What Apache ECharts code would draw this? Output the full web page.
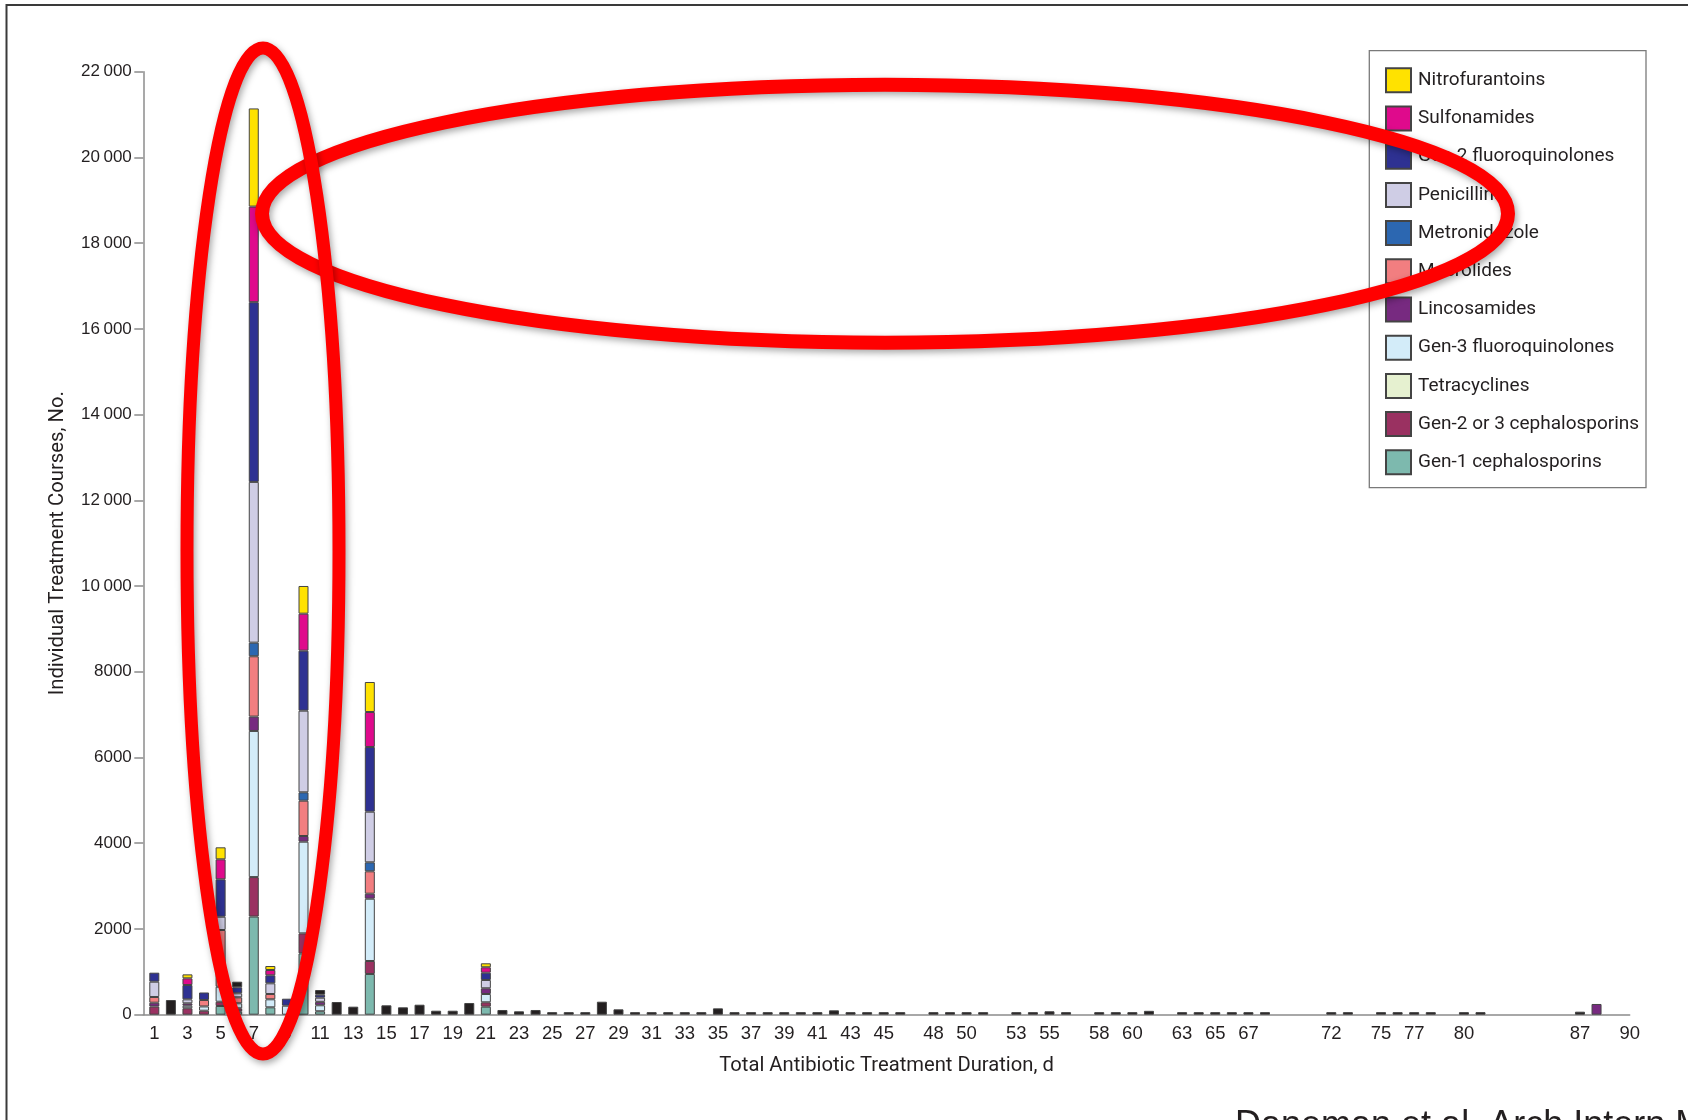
<!DOCTYPE html>
<html>
<head>
<meta charset="utf-8">
<script src="https://cdn.jsdelivr.net/npm/echarts@6/dist/echarts.min.js"></script>
<style>
  html, body { margin: 0; padding: 0; background: #ffffff; }
  #chart { width: 1688px; height: 1120px; }
</style>
</head>
<body>
<div id="chart"></div>
<script>
// Treatment-duration days that have at least one course
const days = [
  1, 2, 3, 4, 5, 6, 7, 8, 9, 10, 11, 12, 13, 14, 15, 16, 17, 18, 19, 20,
  21, 22, 23, 24, 25, 26, 27, 28, 29, 30, 31, 32, 33, 34, 35, 36, 37, 38, 39, 40,
  41, 42, 43, 44, 45, 46,
  48, 49, 50, 51, 53, 54, 55, 56, 58, 59, 60, 61, 63, 64, 65, 66, 67, 68,
  72, 73, 75, 76, 77, 78, 80, 81, 87, 88
];

// Courses not split by drug class (black), one value per entry of `days`
const otherCourses = [
  0, 342, 0, 0, 0, 131, 0, 0, 0, 0, 109, 296, 187, 0, 219, 172, 233, 93, 93, 273,
  0, 110, 79, 110, 60, 60, 60, 303, 125, 60, 60, 60, 60, 60, 148, 60, 60, 60, 60, 60,
  60, 102, 60, 60, 60, 60,
  60, 60, 60, 60, 60, 60, 80, 60, 60, 60, 60, 90, 60, 60, 60, 60, 60, 60,
  60, 60, 60, 60, 60, 60, 60, 60, 70, 0
];

// Days with a drug-class breakdown
const classDays = [1, 3, 4, 5, 6, 7, 8, 9, 10, 11, 14, 21, 88];

// Courses per drug class, aligned with classDays
const gen1Cephalosporins   = [0, 0, 0, 203, 70, 2290, 172, 0, 1430, 80, 950, 187, 0];
const gen23Cephalosporins  = [190, 150, 93, 100, 79, 920, 0, 0, 467, 0, 303, 102, 0];
const tetracyclines        = [0, 0, 0, 0, 0, 0, 0, 0, 0, 0, 0, 0, 0];
const gen3Fluoroquinolones = [0, 60, 100, 350, 117, 3410, 187, 210, 2139, 140, 1453, 194, 0];
const lincosamides         = [90, 55, 0, 0, 0, 335, 0, 0, 133, 80, 117, 133, 250];
const macrolides           = [133, 0, 150, 1323, 140, 1407, 124, 0, 824, 0, 522, 0, 0];
const metronidazole        = [0, 0, 0, 0, 0, 318, 0, 0, 195, 0, 210, 0, 0];
const penicillins          = [357, 93, 0, 310, 93, 3750, 249, 0, 1905, 97, 1181, 194, 0];
const gen2Fluoroquinolones = [210, 334, 175, 872, 140, 4193, 187, 163, 1400, 70, 1510, 170, 0];
const sulfonamides         = [0, 156, 0, 467, 0, 2230, 124, 0, 863, 0, 816, 126, 0];
const nitrofurantoins      = [0, 93, 0, 280, 0, 2290, 93, 0, 646, 0, 700, 93, 0];

// Days labelled under the horizontal axis
const xTickDays = [1, 3, 5, 7, 9, 11, 13, 15, 17, 19, 21, 23, 25, 27, 29, 31, 33, 35, 37, 39,
  41, 43, 45, 48, 50, 53, 55, 58, 60, 63, 65, 67, 72, 75, 77, 80, 87, 90];

// Stack order, bottom to top
const classSeries = [
  { name: 'Gen-1 cephalosporins', color: '#7db9ae', values: gen1Cephalosporins },
  { name: 'Gen-2 or 3 cephalosporins', color: '#9a3161', values: gen23Cephalosporins },
  { name: 'Tetracyclines', color: '#e6f1d0', values: tetracyclines },
  { name: 'Gen-3 fluoroquinolones', color: '#d3ecf9', values: gen3Fluoroquinolones },
  { name: 'Lincosamides', color: '#772a80', values: lincosamides },
  { name: 'Macrolides', color: '#f27e80', values: macrolides },
  { name: 'Metronidazole', color: '#2c67b1', values: metronidazole },
  { name: 'Penicillins', color: '#cfcde5', values: penicillins },
  { name: 'Gen-2 fluoroquinolones', color: '#2e3192', values: gen2Fluoroquinolones },
  { name: 'Sulfonamides', color: '#df0a8c', values: sulfonamides },
  { name: 'Nitrofurantoins', color: '#ffe200', values: nitrofurantoins }
];

const NARROW = 'Roboto, "Liberation Sans", sans-serif';
const REGULAR = '"Liberation Sans", Arial, Helvetica, sans-serif';
const INK = '#231f20';

// [count, day] rows over every entry of `days`; '-' where the class has no courses
function rowsFor(srcDays, srcValues) {
  const byDay = new Map(srcDays.map((d, i) => [d, srcValues[i]]));
  return days.map(d => {
    const v = byDay.get(d);
    return [v ? v : '-', d];
  });
}

function barSeries(name, color, rows) {
  return {
    name: name,
    type: 'bar',
    stack: 'courses',
    barWidth: 10,
    dimensions: ['count', 'day'],
    encode: { x: 'day', y: 'count' },
    itemStyle: { color: color, borderColor: '#444444', borderWidth: 1 },
    emphasis: { disabled: true },
    data: rows
  };
}

const series = classSeries.map(c => barSeries(c.name, c.color, rowsFor(classDays, c.values)));
series.push(barSeries('Other', INK, rowsFor(days, otherCourses)));

function thousands(v) {
  const s = String(v);
  return v >= 10000 ? s.replace(/(\d)(?=(\d{3})+$)/g, '$1\u2009') : s;
}

const chart = echarts.init(document.getElementById('chart'), null, { renderer: 'canvas' });
chart.setOption({
  animation: false,
  backgroundColor: '#ffffff',
  grid: { left: 143.3, right: 58.3, top: 71.7, bottom: 105.3, containLabel: false, outerBoundsMode: 'none' },
  legend: {
    orient: 'vertical',
    left: 1385,
    top: 67.3,
    padding: 0,
    itemWidth: 25,
    itemHeight: 24,
    itemGap: 12.2,
    icon: 'rect',
    selectedMode: false,
    data: classSeries.map(c => c.name).reverse(),
    textStyle: { fontFamily: NARROW, fontSize: 19, color: INK, padding: [0, 0, 0, 2] }
  },
  xAxis: {
    type: 'value',
    min: 0.336,
    max: 90,
    splitLine: { show: false },
    axisLine: { show: true, onZero: false, lineStyle: { color: '#8c8c8c', width: 1.5 } },
    axisTick: { show: false },
    axisLabel: {
      customValues: xTickDays,
      fontFamily: REGULAR,
      fontSize: 18.5,
      color: INK,
      margin: 10
    },
    name: 'Total Antibiotic Treatment Duration, d',
    nameLocation: 'middle',
    nameGap: 41,
    nameTextStyle: { fontFamily: NARROW, fontSize: 20.2, color: INK }
  },
  yAxis: {
    type: 'value',
    min: 0,
    max: 22000,
    interval: 2000,
    splitLine: { show: false },
    axisLine: { show: true, onZero: false, lineStyle: { color: '#8c8c8c', width: 1.5 } },
    axisTick: { show: true, length: 9, lineStyle: { color: '#8c8c8c', width: 1.5 } },
    axisLabel: {
      formatter: thousands,
      fontFamily: REGULAR,
      fontSize: 17,
      color: INK,
      margin: 11.5,
      padding: [0, 0, 6, 0]
    },
    name: 'Individual Treatment Courses, No.',
    nameLocation: 'middle',
    nameGap: 75,
    nameRotate: 90,
    nameTextStyle: { fontFamily: NARROW, fontSize: 20.3, color: INK }
  },
  graphic: [
    // outer frame (left and top edges fall inside the page)
    { type: 'rect', silent: true, z: 0,
      shape: { x: 6.5, y: 5, width: 3000, height: 3000 },
      style: { fill: 'none', stroke: '#3a3a3a', lineWidth: 2 } },
    // legend box
    { type: 'rect', silent: true, z: 0,
      shape: { x: 1369.3, y: 50.7, width: 276.7, height: 437 },
      style: { fill: 'none', stroke: '#7a7a7a', lineWidth: 1.3 } },
    // highlight rings
    { type: 'ellipse', silent: true, z: 100,
      shape: { cx: 885, cy: 213.7, rx: 623, ry: 129 },
      style: { fill: 'none', stroke: '#ff0000', lineWidth: 14,
        shadowBlur: 7, shadowColor: 'rgba(0,0,0,0.35)', shadowOffsetX: 2, shadowOffsetY: 3 } },
    { type: 'ellipse', silent: true, z: 100,
      shape: { cx: 263, cy: 551, rx: 76, ry: 503 },
      style: { fill: 'none', stroke: '#ff0000', lineWidth: 13,
        shadowBlur: 7, shadowColor: 'rgba(0,0,0,0.35)', shadowOffsetX: 2, shadowOffsetY: 3 } },
    // source credit
    { type: 'text', silent: true, z: 50, x: 1235, y: 1108,
      style: { text: 'Daneman et al. Arch Intern Med', font: '36px ' + REGULAR, fill: INK, verticalAlign: 'top' } }
  ],
  series: series
});
</script>
</body>
</html>
